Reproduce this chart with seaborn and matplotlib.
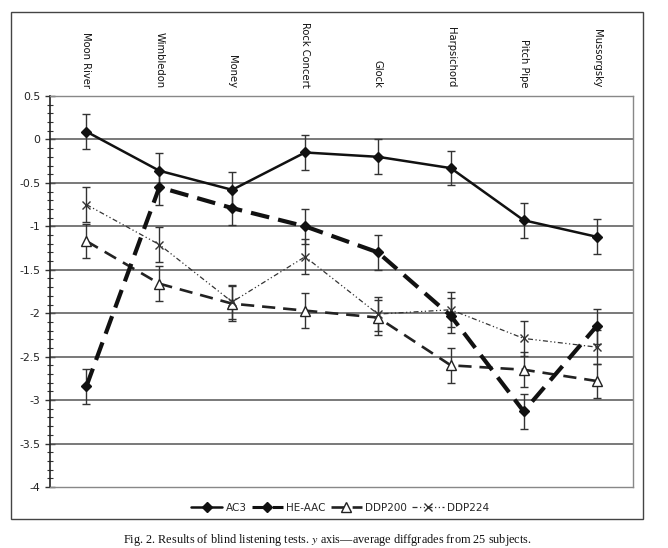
import matplotlib
matplotlib.use("Agg")
import matplotlib.pyplot as plt
import matplotlib.patches as mpatches
from matplotlib.lines import Line2D
from matplotlib.ticker import MultipleLocator
import numpy as np
import pandas as pd
import seaborn as sns

categories = ["Moon River", "Wimbledon", "Money", "Rock Concert", "Glock",
              "Harpsichord", "Pitch Pipe", "Mussorgsky"]
ac3 = [0.09, -0.36, -0.58, -0.15, -0.20, -0.33, -0.93, -1.12]
he_aac = [-2.84, -0.55, -0.79, -1.00, -1.30, -2.03, -3.13, -2.15]
ddp200 = [-1.17, -1.66, -1.89, -1.97, -2.05, -2.60, -2.65, -2.78]
ddp224 = [-0.75, -1.21, -1.87, -1.35, -2.01, -1.96, -2.29, -2.39]
err = 0.2
series_names = ["AC3", "HE-AAC", "DDP200", "DDP224"]
yticks = [0.5, 0, -0.5, -1, -1.5, -2, -2.5, -3, -3.5, -4]
ytick_labels = ["0.5", "0", "-0.5", "-1", "-1.5", "-2", "-2.5", "-3", "-3.5", "-4"]
caption = "Fig. 2. Results of blind listening tests. $y$ axis\u2014average diffgrades from 25 subjects."

sns.set_style("white")
plt.rcParams["font.family"] = ["DejaVu Sans"]
plt.rcParams["mathtext.fontset"] = "stix"

W, H = 668, 548
fig = plt.figure(figsize=(W / 100, H / 100), dpi=100)
ax = fig.add_axes([50 / W, 1 - 487 / H, (633 - 50) / W, (487 - 96) / H])

xpos = np.arange(len(categories))
df = pd.DataFrame({"x": np.tile(xpos, 4),
                   "y": ac3 + he_aac + ddp200 + ddp224,
                   "series": np.repeat(series_names, len(categories))})

styles = {
    "AC3": dict(color="#111111", lw=1.8, ls="-", marker="D", ms=5, mfc="#111111", mec="#111111", z=5),
    "HE-AAC": dict(color="#111111", lw=3.0, ls=(0, (4.5, 2.2)), marker="D", ms=5, mfc="#111111", mec="#111111", z=4),
    "DDP200": dict(color="#222222", lw=1.9, ls=(0, (5, 3)), marker="^", ms=6.5, mfc="white", mec="#222222", z=3),
    "DDP224": dict(color="#333333", lw=0.9, ls=(0, (4, 2, 1, 2, 1, 2)), marker="x", ms=5.5, mfc="#333333", mec="#333333", z=3),
}

for name in series_names:
    st = styles[name]
    sub = df[df["series"] == name]
    ax.errorbar(sub["x"], sub["y"], yerr=err, fmt="none", ecolor="#333333",
                elinewidth=1.0, capsize=3, capthick=1.0, zorder=2)
    sns.lineplot(data=sub, x="x", y="y", ax=ax, color=st["color"], lw=st["lw"],
                 linestyle=st["ls"], marker=st["marker"], markersize=st["ms"],
                 markerfacecolor=st["mfc"], markeredgecolor=st["mec"],
                 markeredgewidth=1.0, zorder=st["z"], legend=False, errorbar=None)

ax.set_xlim(-0.5, len(categories) - 0.5)
ax.set_ylim(-4, 0.5)
ax.set_xlabel("")
ax.set_ylabel("")
ax.xaxis.tick_top()
ax.set_xticks(xpos)
ax.set_xticklabels(categories, rotation=-90, fontsize=7.2, color="#111111")
ax.tick_params(axis="x", length=0, pad=6)
ax.set_yticks(yticks)
ax.set_yticklabels(ytick_labels, fontsize=7.8, color="#222222")
ax.yaxis.set_minor_locator(MultipleLocator(0.1))
ax.tick_params(axis="y", which="major", direction="inout", length=7, width=1, color="#333333", left=True)
ax.tick_params(axis="y", which="minor", direction="inout", length=4, width=0.8, color="#333333", left=True)
for y in yticks[1:-1]:
    ax.axhline(y, color="#555555", lw=1.1, zorder=1)
for s in ["top", "right", "bottom"]:
    ax.spines[s].set_color("#888888")
    ax.spines[s].set_linewidth(1.0)
ax.spines["left"].set_color("#222222")
ax.spines["left"].set_linewidth(1.2)
ax.grid(False)

handles = []
for name in series_names:
    st = styles[name]
    handles.append(Line2D([0], [0], color=st["color"], lw=min(st["lw"], 2.2), linestyle=st["ls"],
                          marker=st["marker"], markersize=st["ms"],
                          markerfacecolor=st["mfc"], markeredgecolor=st["mec"]))
fig.legend(handles, series_names, loc="center", bbox_to_anchor=(340 / W, 1 - 508 / H),
           ncol=4, frameon=False, fontsize=7.5, handlelength=3.0, handletextpad=0.3,
           columnspacing=0.5)

frame = mpatches.Rectangle((11 / W, 1 - 519 / H), (643 - 11) / W, (519 - 12) / H,
                           transform=fig.transFigure, fill=False, ec="#444444", lw=1.0)
fig.patches.append(frame)

fig.text(327 / W, 1 - 540 / H, caption, ha="center", va="center",
         fontsize=8.8, family=["Liberation Serif", "DejaVu Serif"], color="#111111")

fig.savefig("out.png", dpi=100, facecolor="white")
